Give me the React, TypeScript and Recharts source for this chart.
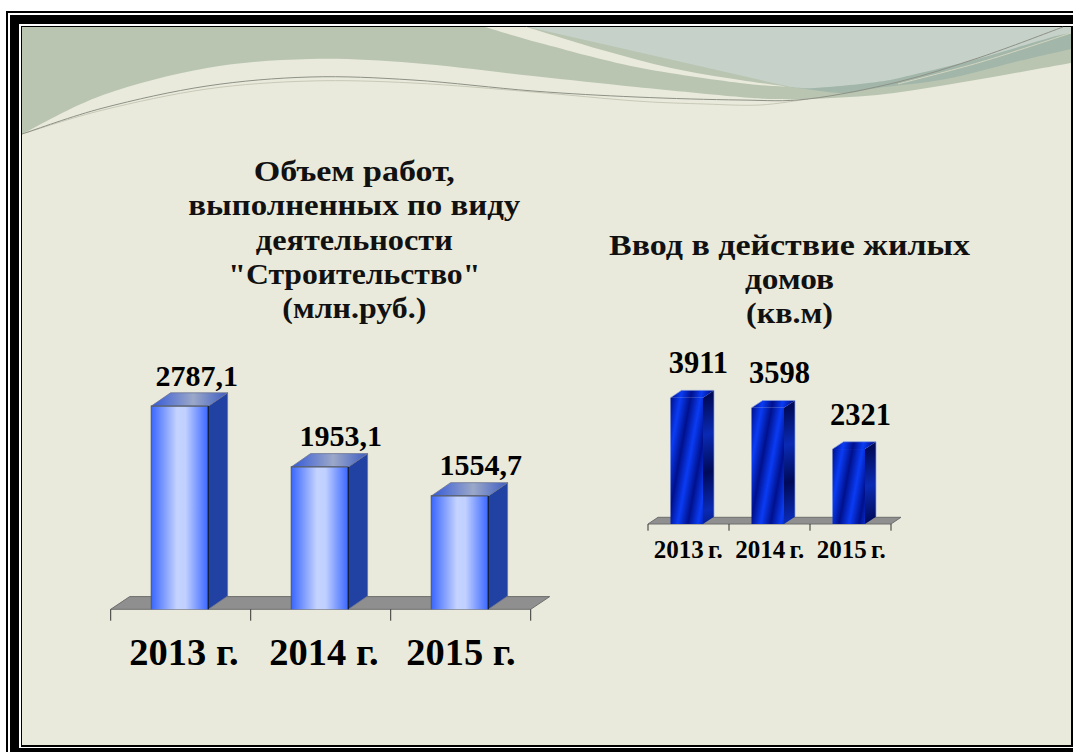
import { Bar, BarChart, LabelList, XAxis, YAxis, usePlotArea } from 'recharts';

const years = ['2013 г.', '2014 г.', '2015 г.'];
const workValues = [2787.1, 1953.1, 1554.7];
const housingValues = [3911, 3598, 2321];

const workTitle = ['Объем работ,', 'выполненных по виду', 'деятельности', '"Строительство"', '(млн.руб.)'];
const housingTitle = ['Ввод в действие жилых', 'домов', '(кв.м)'];
// the original face (Garamond bold) runs wider than Liberation Serif, so each line is fitted
const workTitleWidths = [201, 332, 197, 252, 144];
const housingTitleWidths = [361, 89, 87];

const workData = years.map((year, i) => ({ year, value: workValues[i] }));
const housingData = years.map((year, i) => ({ year, value: housingValues[i] }));

const serif = '"Liberation Serif", serif';

// smooth line through hand-read points of the slide background
function smooth(points: number[][]) {
    let d = `M${points[0][0]},${points[0][1]}`;
    for (let i = 0; i < points.length - 1; i++) {
        const p0 = points[Math.max(i - 1, 0)];
        const p1 = points[i];
        const p2 = points[i + 1];
        const p3 = points[Math.min(i + 2, points.length - 1)];
        const c1x = p1[0] + (p2[0] - p0[0]) / 6;
        const c1y = p1[1] + (p2[1] - p0[1]) / 6;
        const c2x = p2[0] - (p3[0] - p1[0]) / 6;
        const c2y = p2[1] - (p3[1] - p1[1]) / 6;
        d += ` C${c1x},${c1y} ${c2x},${c2y} ${p2[0]},${p2[1]}`;
    }
    return d;
}

const bandEdge = [[22, 134], [103, 95], [207, 68], [310, 59], [413, 63], [533, 76], [636, 87], [740, 97], [774, 99], [808, 99], [877, 95], [946, 85], [1015, 73], [1071, 63]];
const creamLow = [[485, 27], [540, 43], [636, 67], [740, 83], [791, 87]];
const creamHigh = [[791, 87], [740, 80], [671, 68], [602, 50], [533, 29], [528, 27]];
const paleEdge = [[791, 87], [815, 88], [877, 82], [912, 75], [981, 58], [1049, 38], [1071, 33]];
const tealEdge = [[791, 87], [843, 93], [877, 88], [946, 79], [1015, 62], [1071, 49]];
const darkLine = [[22, 134], [103, 108], [207, 86], [310, 77], [413, 80], [533, 91], [636, 97], [740, 100], [808, 99], [898, 82], [981, 57], [1063, 27]];
const darkLine2 = [[22, 134], [103, 110], [207, 89], [310, 81], [413, 83], [533, 92], [636, 101], [705, 104], [760, 105], [808, 99]];
const creamLine = [[898, 84], [981, 62], [1071, 33]];

function Backdrop() {
    return (
        <svg width={1073} height={752} style={{ position: 'absolute', left: 0, top: 0 }}>
            <rect width={1073} height={752} fill="#ffffff" />
            <rect x={6} y={11} width={1067} height={741} fill="#000000" />
            <rect x={8} y={13} width={1065} height={739} fill="#ffffff" />
            <rect x={10} y={15} width={1063} height={737} fill="#000000" />
            <rect x={19} y={24} width={1054} height={724} fill="#ffffff" />
            <rect x={21} y={26} width={1052} height={721} fill="#000000" />
            <rect x={22} y={27} width={1049} height={718} fill="#e9eadb" />
            <path d={`${smooth(bandEdge)} L1071,27 L22,27 Z`} fill="#b9c5b1" />
            <path d={`${smooth(tealEdge)} L1071,27 L791,27 Z`} fill="#a2b6aa" />
            <path d={`${smooth(paleEdge)} L1071,27 L528,27 Z`} fill="#c6d1c9" />
            <path d={`${smooth(creamLow)} ${smooth(creamHigh).replace('M', 'L')} Z`} fill="#e9eadb" />
            <path d={smooth(darkLine2)} fill="none" stroke="#c9c9b8" strokeWidth={1} />
            <path d={smooth(creamLine)} fill="none" stroke="#d4d6c0" strokeWidth={1} />
            <path d={smooth(darkLine)} fill="none" stroke="#8d9186" strokeWidth={1} />
            {workTitle.map((line, i) => (
                <text
                    key={line}
                    x={354.3}
                    y={180.7 + i * 34.4}
                    textAnchor="middle"
                    textLength={workTitleWidths[i]}
                    lengthAdjust="spacingAndGlyphs"
                    fontFamily={serif}
                    fontWeight="bold"
                    fontSize={30}
                    fill="#111111"
                >
                    {line}
                </text>
            ))}
            {housingTitle.map((line, i) => (
                <text
                    key={line}
                    x={789.5}
                    y={255 + i * 34.2}
                    textAnchor="middle"
                    textLength={housingTitleWidths[i]}
                    lengthAdjust="spacingAndGlyphs"
                    fontFamily={serif}
                    fontWeight="bold"
                    fontSize={30}
                    fill="#111111"
                >
                    {line}
                </text>
            ))}
        </svg>
    );
}

function Floor({ dx, dy, tick, count }: { dx: number; dy: number; tick: number; count: number }) {
    const plot = usePlotArea();
    if (!plot) {
        return null;
    }
    const bottom = plot.y + plot.height;
    const right = plot.x + plot.width;
    return (
        <g>
            <polygon
                points={`${plot.x},${bottom} ${right},${bottom} ${right + dx},${bottom - dy} ${plot.x + dx},${bottom - dy}`}
                fill="#8f8f8f"
                stroke="#6e6e6e"
            />
            {Array.from({ length: count + 1 }, (_, i) => {
                const x = plot.x + (plot.width * i) / count;
                return <line key={i} x1={x} x2={x} y1={bottom} y2={bottom + tick} stroke="#333333" />;
            })}
        </g>
    );
}

function GlassBar({ x, y, width, height, dx, dy, shift }: any) {
    const left = x + shift;
    const right = left + width;
    const bottom = y + height;
    return (
        <g>
            <polygon points={`${right},${y} ${right + dx},${y - dy} ${right + dx},${bottom - dy} ${right},${bottom}`} fill="#2142a2" stroke="#6d7590" strokeWidth={0.8} />
            <polygon points={`${left},${y} ${left + dx},${y - dy} ${right + dx},${y - dy} ${right},${y}`} fill="url(#glassTop)" stroke="#6d7590" strokeWidth={0.8} />
            <rect x={left} y={y} width={width} height={height} fill="url(#glassFront)" />
            <path d={`M${left},${bottom} V${y} H${right}`} fill="none" stroke="#555c66" strokeWidth={1.2} />
            <line x1={right} x2={right} y1={y} y2={bottom} stroke="#14203f" strokeWidth={1.4} />
        </g>
    );
}

function StripedBar({ x, y, width, height, index, dx, dy, shift }: any) {
    const left = x + shift;
    const right = left + width;
    const bottom = y + height;
    const frontId = `stripeFront${index}`;
    const sideId = `stripeSide${index}`;
    return (
        <g>
            <defs>
                <linearGradient id={frontId} gradientUnits="userSpaceOnUse" x1={left} y1={y} x2={left + 19.4} y2={y + 3.5} spreadMethod="repeat">
                    <stop offset="0%" stopColor="#00108c" />
                    <stop offset="50%" stopColor="#0a3cf5" />
                    <stop offset="100%" stopColor="#00108c" />
                </linearGradient>
                <linearGradient id={sideId} gradientUnits="userSpaceOnUse" x1={right} y1={y} x2={right + 20} y2={y + 70} spreadMethod="repeat">
                    <stop offset="0%" stopColor="#000a58" />
                    <stop offset="50%" stopColor="#0a2ab4" />
                    <stop offset="100%" stopColor="#000a58" />
                </linearGradient>
            </defs>
            <polygon points={`${right},${y} ${right + dx},${y - dy} ${right + dx},${bottom - dy} ${right},${bottom}`} fill={`url(#${sideId})`} />
            <polygon points={`${left},${y} ${left + dx},${y - dy} ${right + dx},${y - dy} ${right},${y}`} fill={`url(#${frontId})`} />
            <rect x={left} y={y} width={width} height={height} fill={`url(#${frontId})`} />
            <path d={`M${left},${y} L${left + dx},${y - dy} H${right + dx} V${bottom - dy}`} fill="none" stroke="#8ea4dc" strokeWidth={0.7} />
        </g>
    );
}

function ValueLabel({ x, y, width, value, index, offsets, dy, fontSize, format }: any) {
    return (
        <text x={x + width / 2 + offsets[index]} y={y + dy} textAnchor="middle" fontFamily={serif} fontWeight="bold" fontSize={fontSize} fill="#000000">
            {format(value)}
        </text>
    );
}

function YearTick({ x, y, payload, index, offsets, dy, fontSize, wordSpacing }: any) {
    return (
        <text x={x + offsets[index]} y={y + dy} textAnchor="middle" fontFamily={serif} fontWeight="bold" fontSize={fontSize} wordSpacing={wordSpacing} fill="#000000">
            {payload.value}
        </text>
    );
}

function WorkChart() {
    return (
        <div style={{ position: 'absolute', left: 90, top: 350 }}>
            <BarChart width={480} height={340} data={workData} margin={{ top: 40.6, right: 39.3, left: 20.7, bottom: 0 }}>
                <defs>
                    <linearGradient id="glassFront" x1="0" y1="0" x2="1" y2="0">
                        <stop offset="0%" stopColor="#3a66ff" />
                        <stop offset="45%" stopColor="#c4d3ff" />
                        <stop offset="60%" stopColor="#c0d0ff" />
                        <stop offset="100%" stopColor="#3a66ff" />
                    </linearGradient>
                    <linearGradient id="glassTop" x1="0" y1="0" x2="1" y2="0">
                        <stop offset="0%" stopColor="#3459d8" />
                        <stop offset="55%" stopColor="#9ba8c8" />
                        <stop offset="100%" stopColor="#3d5cc4" />
                    </linearGradient>
                </defs>
                <XAxis
                    dataKey="year"
                    height={80.7}
                    axisLine={false}
                    tickLine={false}
                    tickSize={0}
                    tickMargin={0}
                    interval={0}
                    tick={<YearTick offsets={[3.3, 3.3, 0.2]} dy={55.7} fontSize={38.5} wordSpacing={0} />}
                />
                <YAxis hide domain={[0, 3000]} />
                <Floor dx={19} dy={12.7} tick={11.4} count={years.length} />
                <Bar dataKey="value" barSize={57} isAnimationActive={false} shape={<GlassBar dx={19.3} dy={13.3} shift={-1.4} />}>
                    <LabelList
                        dataKey="value"
                        content={<ValueLabel offsets={[15.5, 19.6, 19.6]} dy={-20.5} fontSize={30} format={(v: number) => v.toFixed(1).replace('.', ',')} />}
                    />
                </Bar>
            </BarChart>
        </div>
    );
}

function HousingChart() {
    return (
        <div style={{ position: 'absolute', left: 630, top: 340 }}>
            <BarChart width={290} height={240} data={housingData} margin={{ top: 54.8, right: 29, left: 18, bottom: 0 }}>
                <XAxis
                    dataKey="year"
                    height={56}
                    axisLine={false}
                    tickLine={false}
                    tickSize={0}
                    tickMargin={0}
                    interval={0}
                    tick={<YearTick offsets={[-0.2, 0.2, 0.7]} dy={34.3} fontSize={25} wordSpacing={-2} />}
                />
                <YAxis hide domain={[0, 4000]} />
                <Floor dx={10} dy={6.7} tick={6.7} count={years.length} />
                <Bar dataKey="value" barSize={32.5} isAnimationActive={false} shape={<StripedBar dx={11} dy={7.3} shift={-1.5} />}>
                    <LabelList
                        dataKey="value"
                        content={<ValueLabel offsets={[10.2, 10.3, 10.2]} dy={-24.5} fontSize={30.5} format={(v: number) => String(v)} />}
                    />
                </Bar>
            </BarChart>
        </div>
    );
}

export default function App() {
    return (
        <div style={{ position: 'absolute', left: 0, top: 0, width: 1073, height: 752, overflow: 'hidden' }}>
            <Backdrop />
            <WorkChart />
            <HousingChart />
        </div>
    );
}
